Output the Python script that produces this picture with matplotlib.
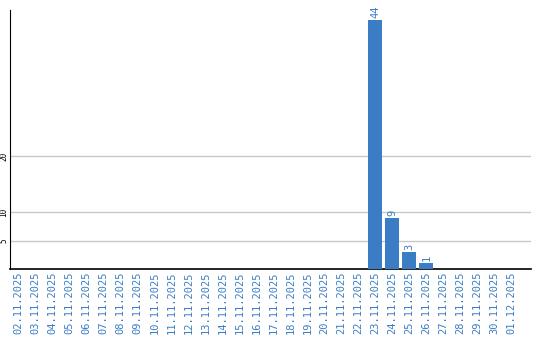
import numpy as np
import matplotlib
matplotlib.use('Agg')
import matplotlib.pyplot as plt

# dates 02.11.2025 .. 01.12.2025
dates = ['02.11.2025', '03.11.2025', '04.11.2025', '05.11.2025', '06.11.2025',
         '07.11.2025', '08.11.2025', '09.11.2025', '10.11.2025', '11.11.2025',
         '12.11.2025', '13.11.2025', '14.11.2025', '15.11.2025', '16.11.2025',
         '17.11.2025', '18.11.2025', '19.11.2025', '20.11.2025', '21.11.2025',
         '22.11.2025', '23.11.2025', '24.11.2025', '25.11.2025', '26.11.2025',
         '27.11.2025', '28.11.2025', '29.11.2025', '30.11.2025', '01.12.2025']
counts = [0, 0, 0, 0, 0, 0, 0, 0, 0, 0,
          0, 0, 0, 0, 0, 0, 0, 0, 0, 0,
          0, 44, 9, 3, 1, 0, 0, 0, 0, 0]
yticks = [5, 10, 20]

blue = '#3b7dc4'
mono = 'DejaVu Sans Mono'

fig = plt.figure(figsize=(5.4, 3.4), dpi=100)
ax = fig.add_axes([10 / 540, 71 / 340, 521 / 540, 259 / 340])

x = np.arange(len(dates))
bars = ax.bar(x, counts, width=0.82, color=blue, zorder=3)

for xi, v in zip(x, counts):
    if v > 0:
        ax.text(xi, v + 0.4, str(v), rotation=90, ha='center', va='bottom',
                color=blue, fontsize=7.5, family=mono)

ax.set_xlim(-0.5, 30.15)
ax.set_ylim(0, 45.8)
ax.set_xticks(x)
ax.set_xticklabels(dates, rotation=90, color=blue, fontsize=7.5, family=mono)
ax.set_yticks(yticks)
ax.set_yticklabels([str(t) for t in yticks], rotation=90, va='center',
                   fontsize=5.5, family=mono)
ax.tick_params(axis='x', length=0, pad=2)
ax.tick_params(axis='y', length=0, pad=1)
ax.grid(axis='y', color='#c8c8c8', linewidth=1, zorder=0)

for s in ['top', 'right']:
    ax.spines[s].set_visible(False)
ax.spines['left'].set_color('black')
ax.spines['bottom'].set_color('black')
ax.spines['bottom'].set_linewidth(1.2)

plt.savefig('out.png', dpi=100)
